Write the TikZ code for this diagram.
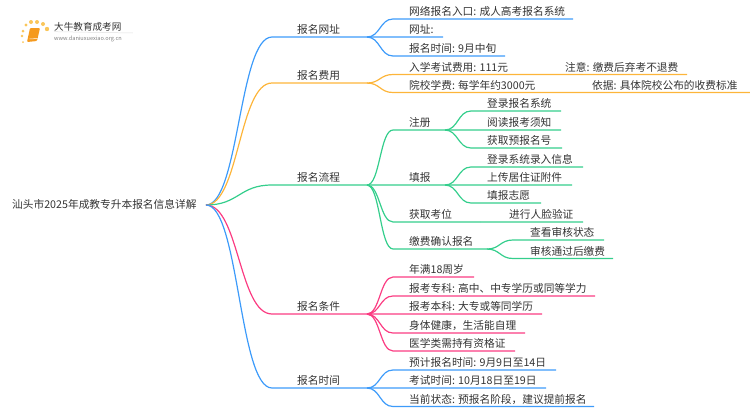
\documentclass[tikz,border=0pt]{standalone}
\usepackage{fontspec}
\setmainfont{Noto Sans CJK SC}
\usetikzlibrary{calc}
\definecolor{lineblue}{HTML}{3D9BFA}
\definecolor{lineorange}{HTML}{FDB53A}
\definecolor{linegreen}{HTML}{34CE8C}
\definecolor{linepink}{HTML}{FB3C82}
\definecolor{labelgrey}{HTML}{333333}
\definecolor{logoorange}{HTML}{F59A1E}
\definecolor{logodot}{HTML}{FAC65A}
% one label, its underline and the curve that comes in from the hub
\newcommand{\leaf}[8]{%
\coordinate (#1s) at (#4,#5);
\coordinate (#1e) at (#6,#5+.03);
\node[lbl] (#1) at (#7,#5-6.5) {#8};
\draw[#2] (#3) to[curve] (#1s) -- (#1e);
}
\begin{document}
\begin{tikzpicture}[x=1pt,y=-1pt]
\tikzstyle{lbl}=[anchor=west,inner sep=0pt,text height=8pt,text depth=2pt,font=\fontsize{10.7}{12}\selectfont,text=labelgrey]
\tikzstyle{curve}=[to path={.. controls ($(\tikztostart)!.5!(\tikztotarget |- \tikztostart)$) and ($(\tikztotarget)!.5!(\tikztostart |- \tikztotarget)$) .. (\tikztotarget)}]
\tikzstyle{bl}=[lineblue,line width=1.2pt]
\tikzstyle{og}=[lineorange,line width=1.2pt]
\tikzstyle{gr}=[linegreen,line width=1.2pt]
\tikzstyle{pk}=[linepink,line width=1.2pt]
\useasboundingbox (0,0) rectangle (750,410);

\node[lbl] (root) at (12,205) {汕头市2025年成教专升本报名信息详解};
\coordinate (hub) at (206,205);

% first level
\leaf{wz}{bl}{hub}{272}{37}{367}{297}{报名网址}
\leaf{fy}{og}{hub}{272}{83}{367}{297}{报名费用}
\leaf{lc}{gr}{hub}{272}{185}{367}{297}{报名流程}
\leaf{tj}{pk}{hub}{272}{314}{367}{297}{报名条件}
\leaf{sj}{bl}{hub}{272}{388}{367}{297}{报名时间}

\leaf{wzA}{bl}{wze}{393}{19}{573}{409}{网络报名入口: 成人高考报名系统}
\leaf{wzB}{bl}{wze}{393}{37}{443}{409}{网址:}
\leaf{wzC}{bl}{wze}{393}{56}{505}{409}{报名时间: 9月中旬}

\leaf{fyA}{og}{fye}{393}{74.5}{515}{409}{入学考试费用: 111元}
\leaf{fyB}{og}{fye}{393}{92.5}{540}{409}{院校学费: 每学年约3000元}
\leaf{fyAa}{og}{fyAe}{540}{74.5}{687}{565}{注意: 缴费后弃考不退费}
\leaf{fyBa}{og}{fyBe}{570}{92.5}{750}{592}{依据: 具体院校公布的收费标准}

\leaf{zc}{gr}{lce}{393}{130}{445}{409}{注册}
\leaf{tb}{gr}{lce}{393}{185}{445}{409}{填报}
\leaf{kw}{gr}{lce}{393}{222}{480}{409}{获取考位}
\leaf{jf}{gr}{lce}{393}{249}{487}{409}{缴费确认报名}

\leaf{zcA}{gr}{zce}{471}{111}{561}{487}{登录报名系统}
\leaf{zcB}{gr}{zce}{471}{130}{561}{487}{阅读报考须知}
\leaf{zcC}{gr}{zce}{471}{148}{562}{487}{获取预报名号}

\leaf{tbA}{gr}{tbe}{471}{167}{583}{487}{登录系统录入信息}
\leaf{tbB}{gr}{tbe}{471}{185}{572}{487}{上传居住证附件}
\leaf{tbC}{gr}{tbe}{471}{203}{541}{487}{填报志愿}

\leaf{kwA}{gr}{kwe}{495}{222}{583}{509}{进行人脸验证}

\leaf{jfA}{gr}{jfe}{513}{240}{604}{530}{查看审核状态}
\leaf{jfB}{gr}{jfe}{513}{258.5}{613}{530}{审核通过后缴费}

\leaf{tjA}{pk}{tje}{393}{277}{474}{409}{年满18周岁}
\leaf{tjB}{pk}{tje}{393}{296}{595}{409}{报考专科: 高中、中专学历或同等学力}
\leaf{tjC}{pk}{tje}{393}{314}{542}{409}{报考本科: 大专或等同学历}
\leaf{tjD}{pk}{tje}{393}{333}{525}{409}{身体健康，生活能自理}
\leaf{tjE}{pk}{tje}{393}{351}{515}{409}{医学类需持有资格证}

\leaf{sjA}{bl}{sje}{393}{370}{556}{409}{预计报名时间: 9月9日至14日}
\leaf{sjB}{bl}{sje}{393}{388}{546}{409}{考试时间: 10月18日至19日}
\leaf{sjC}{bl}{sje}{393}{406.5}{594}{409}{当前状态: 预报名阶段，建议提前报名}

% logo
\fill[logoorange,rounded corners=1pt] (30,28) -- (40,28) -- (37,41) -- (27,42) -- cycle;
\draw[white,line width=.5pt] (29.5,39) -- (37.5,38.5);
\foreach \px/\py/\pr in {22/36/1.3,23/31/1.5,26/25/1.7,31/22/2,37/22/2,43/24/2,47/29/2.2,23/42/1}
  \fill[logodot] (\px,\py) circle (\pr);
\node[anchor=west,inner sep=0pt,font=\fontsize{9.6}{11}\selectfont,text=labelgrey] (logoname) at (54,27) {大牛教育成考网};
\node[anchor=west,inner sep=0pt,font=\fontsize{5.6}{7}\selectfont,text=gray] (logourl) at (54,39) {www.daniuxuexiao.org.cn};
\draw[black!12,line width=.5pt] (logoname.south west) -- (133,33);
\end{tikzpicture}
\end{document}
